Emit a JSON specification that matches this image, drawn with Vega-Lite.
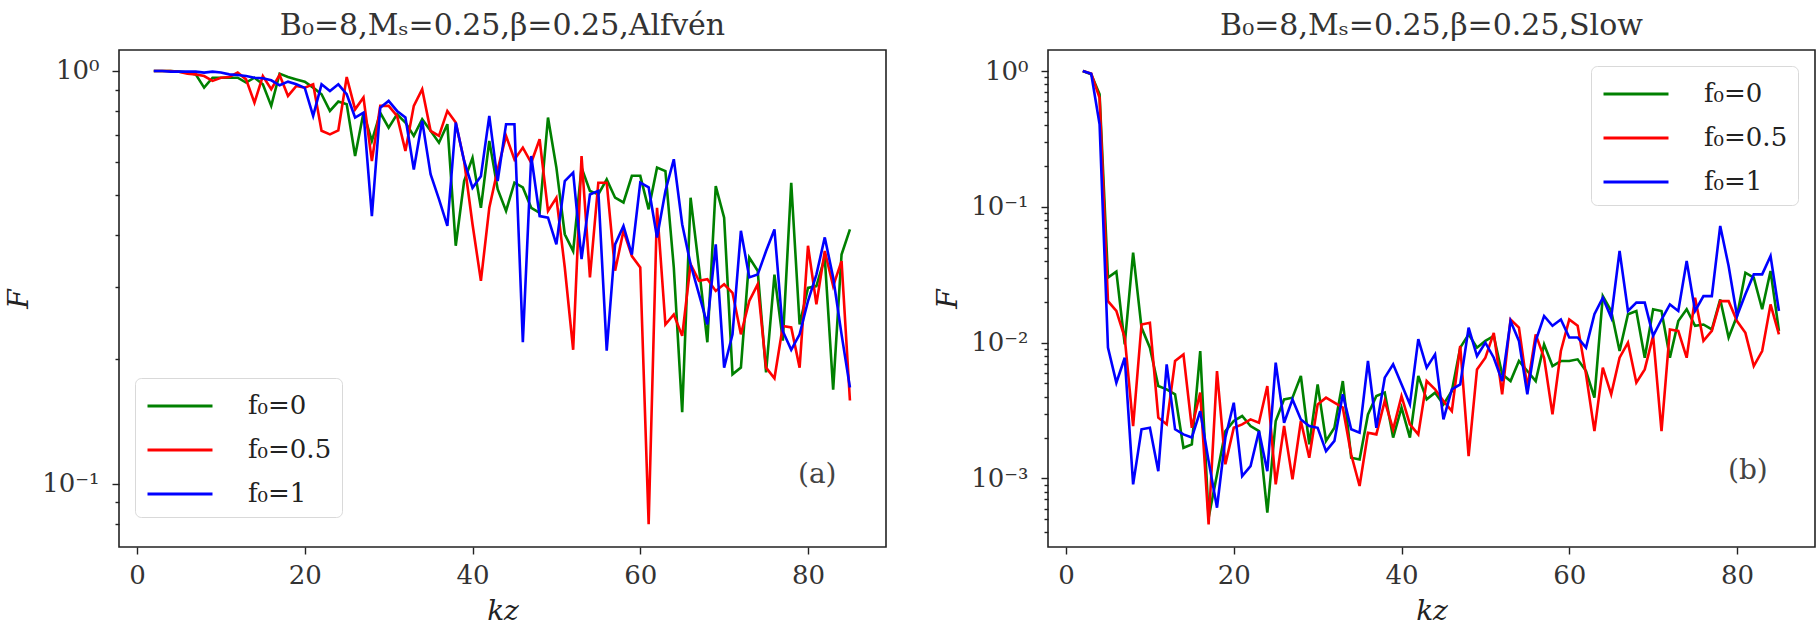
{
  "$schema": "https://vega.github.io/schema/vega-lite/v6.json",
  "background": "white",
  "padding": {"left": 4, "top": 10, "right": 2, "bottom": 5},
  "spacing": 162,
  "bounds": "flush",
  "config": {
    "font": "DejaVu Serif",
    "view": {"stroke": "#222222", "strokeWidth": 1.6},
    "axis": {
      "domain": false, "grid": false, "tickColor": "#222222", "tickWidth": 1.4,
      "labelFont": "DejaVu Serif", "labelFontSize": 26, "labelColor": "#333333",
      "titleFont": "DejaVu Serif", "titleFontSize": 28, "titleFontWeight": "normal",
      "titleFontStyle": "italic", "titleColor": "#222222"
    },
    "title": {"font": "DejaVu Serif", "fontSize": 30, "fontWeight": "normal", "color": "#333333", "offset": 9}
  },
  "datasets": {
    "alfven": [
      {"kz":2,"s":"f₀=0","F":1.0},{"kz":3,"s":"f₀=0","F":1.0},{"kz":4,"s":"f₀=0","F":1.0},{"kz":5,"s":"f₀=0","F":0.996},{"kz":6,"s":"f₀=0","F":0.991},{"kz":7,"s":"f₀=0","F":0.981},{"kz":8,"s":"f₀=0","F":0.911},{"kz":9,"s":"f₀=0","F":0.963},{"kz":10,"s":"f₀=0","F":0.963},{"kz":11,"s":"f₀=0","F":0.963},{"kz":12,"s":"f₀=0","F":0.963},{"kz":13,"s":"f₀=0","F":0.937},{"kz":14,"s":"f₀=0","F":0.963},{"kz":15,"s":"f₀=0","F":0.928},{"kz":16,"s":"f₀=0","F":0.823},{"kz":17,"s":"f₀=0","F":0.985},{"kz":18,"s":"f₀=0","F":0.967},{"kz":19,"s":"f₀=0","F":0.954},{"kz":20,"s":"f₀=0","F":0.942},{"kz":21,"s":"f₀=0","F":0.911},{"kz":22,"s":"f₀=0","F":0.878},{"kz":23,"s":"f₀=0","F":0.8},{"kz":24,"s":"f₀=0","F":0.843},{"kz":25,"s":"f₀=0","F":0.83},{"kz":26,"s":"f₀=0","F":0.622},{"kz":27,"s":"f₀=0","F":0.792},{"kz":28,"s":"f₀=0","F":0.677},{"kz":29,"s":"f₀=0","F":0.792},{"kz":30,"s":"f₀=0","F":0.729},{"kz":31,"s":"f₀=0","F":0.785},{"kz":32,"s":"f₀=0","F":0.75},{"kz":33,"s":"f₀=0","F":0.696},{"kz":34,"s":"f₀=0","F":0.764},{"kz":35,"s":"f₀=0","F":0.716},{"kz":36,"s":"f₀=0","F":0.67},{"kz":37,"s":"f₀=0","F":0.743},{"kz":38,"s":"f₀=0","F":0.377},{"kz":39,"s":"f₀=0","F":0.541},{"kz":40,"s":"f₀=0","F":0.616},{"kz":41,"s":"f₀=0","F":0.466},{"kz":42,"s":"f₀=0","F":0.677},{"kz":43,"s":"f₀=0","F":0.517},{"kz":44,"s":"f₀=0","F":0.458},{"kz":45,"s":"f₀=0","F":0.536},{"kz":46,"s":"f₀=0","F":0.522},{"kz":47,"s":"f₀=0","F":0.466},{"kz":48,"s":"f₀=0","F":0.453},{"kz":49,"s":"f₀=0","F":0.771},{"kz":50,"s":"f₀=0","F":0.583},{"kz":51,"s":"f₀=0","F":0.402},{"kz":52,"s":"f₀=0","F":0.366},{"kz":53,"s":"f₀=0","F":0.583},{"kz":54,"s":"f₀=0","F":0.512},{"kz":55,"s":"f₀=0","F":0.502},{"kz":56,"s":"f₀=0","F":0.546},{"kz":57,"s":"f₀=0","F":0.493},{"kz":58,"s":"f₀=0","F":0.48},{"kz":59,"s":"f₀=0","F":0.557},{"kz":60,"s":"f₀=0","F":0.557},{"kz":61,"s":"f₀=0","F":0.462},{"kz":62,"s":"f₀=0","F":0.583},{"kz":63,"s":"f₀=0","F":0.572},{"kz":64,"s":"f₀=0","F":0.334},{"kz":65,"s":"f₀=0","F":0.149},{"kz":66,"s":"f₀=0","F":0.493},{"kz":67,"s":"f₀=0","F":0.334},{"kz":68,"s":"f₀=0","F":0.22},{"kz":69,"s":"f₀=0","F":0.526},{"kz":70,"s":"f₀=0","F":0.441},{"kz":71,"s":"f₀=0","F":0.184},{"kz":72,"s":"f₀=0","F":0.191},{"kz":73,"s":"f₀=0","F":0.353},{"kz":74,"s":"f₀=0","F":0.328},{"kz":75,"s":"f₀=0","F":0.186},{"kz":76,"s":"f₀=0","F":0.321},{"kz":77,"s":"f₀=0","F":0.222},{"kz":78,"s":"f₀=0","F":0.536},{"kz":79,"s":"f₀=0","F":0.243},{"kz":80,"s":"f₀=0","F":0.298},{"kz":81,"s":"f₀=0","F":0.301},{"kz":82,"s":"f₀=0","F":0.353},{"kz":83,"s":"f₀=0","F":0.169},{"kz":84,"s":"f₀=0","F":0.359},{"kz":85,"s":"f₀=0","F":0.413},
      {"kz":2,"s":"f₀=0.5","F":1.0},{"kz":3,"s":"f₀=0.5","F":1.0},{"kz":4,"s":"f₀=0.5","F":1.0},{"kz":5,"s":"f₀=0.5","F":0.996},{"kz":6,"s":"f₀=0.5","F":0.985},{"kz":7,"s":"f₀=0.5","F":0.981},{"kz":8,"s":"f₀=0.5","F":0.972},{"kz":9,"s":"f₀=0.5","F":0.946},{"kz":10,"s":"f₀=0.5","F":0.963},{"kz":11,"s":"f₀=0.5","F":0.967},{"kz":12,"s":"f₀=0.5","F":0.991},{"kz":13,"s":"f₀=0.5","F":0.954},{"kz":14,"s":"f₀=0.5","F":0.838},{"kz":15,"s":"f₀=0.5","F":0.972},{"kz":16,"s":"f₀=0.5","F":0.903},{"kz":17,"s":"f₀=0.5","F":0.978},{"kz":18,"s":"f₀=0.5","F":0.87},{"kz":19,"s":"f₀=0.5","F":0.92},{"kz":20,"s":"f₀=0.5","F":0.911},{"kz":21,"s":"f₀=0.5","F":0.928},{"kz":22,"s":"f₀=0.5","F":0.716},{"kz":23,"s":"f₀=0.5","F":0.702},{"kz":24,"s":"f₀=0.5","F":0.718},{"kz":25,"s":"f₀=0.5","F":0.967},{"kz":26,"s":"f₀=0.5","F":0.807},{"kz":27,"s":"f₀=0.5","F":0.862},{"kz":28,"s":"f₀=0.5","F":0.605},{"kz":29,"s":"f₀=0.5","F":0.823},{"kz":30,"s":"f₀=0.5","F":0.823},{"kz":31,"s":"f₀=0.5","F":0.778},{"kz":32,"s":"f₀=0.5","F":0.64},{"kz":33,"s":"f₀=0.5","F":0.823},{"kz":34,"s":"f₀=0.5","F":0.903},{"kz":35,"s":"f₀=0.5","F":0.716},{"kz":36,"s":"f₀=0.5","F":0.696},{"kz":37,"s":"f₀=0.5","F":0.8},{"kz":38,"s":"f₀=0.5","F":0.75},{"kz":39,"s":"f₀=0.5","F":0.605},{"kz":40,"s":"f₀=0.5","F":0.425},{"kz":41,"s":"f₀=0.5","F":0.31},{"kz":42,"s":"f₀=0.5","F":0.466},{"kz":43,"s":"f₀=0.5","F":0.577},{"kz":44,"s":"f₀=0.5","F":0.696},{"kz":45,"s":"f₀=0.5","F":0.61},{"kz":46,"s":"f₀=0.5","F":0.652},{"kz":47,"s":"f₀=0.5","F":0.599},{"kz":48,"s":"f₀=0.5","F":0.683},{"kz":49,"s":"f₀=0.5","F":0.458},{"kz":50,"s":"f₀=0.5","F":0.493},{"kz":51,"s":"f₀=0.5","F":0.334},{"kz":52,"s":"f₀=0.5","F":0.211},{"kz":53,"s":"f₀=0.5","F":0.622},{"kz":54,"s":"f₀=0.5","F":0.316},{"kz":55,"s":"f₀=0.5","F":0.536},{"kz":56,"s":"f₀=0.5","F":0.536},{"kz":57,"s":"f₀=0.5","F":0.328},{"kz":58,"s":"f₀=0.5","F":0.41},{"kz":59,"s":"f₀=0.5","F":0.356},{"kz":60,"s":"f₀=0.5","F":0.334},{"kz":61,"s":"f₀=0.5","F":0.0797},{"kz":62,"s":"f₀=0.5","F":0.466},{"kz":63,"s":"f₀=0.5","F":0.243},{"kz":64,"s":"f₀=0.5","F":0.257},{"kz":65,"s":"f₀=0.5","F":0.228},{"kz":66,"s":"f₀=0.5","F":0.34},{"kz":67,"s":"f₀=0.5","F":0.31},{"kz":68,"s":"f₀=0.5","F":0.313},{"kz":69,"s":"f₀=0.5","F":0.293},{"kz":70,"s":"f₀=0.5","F":0.304},{"kz":71,"s":"f₀=0.5","F":0.29},{"kz":72,"s":"f₀=0.5","F":0.23},{"kz":73,"s":"f₀=0.5","F":0.277},{"kz":74,"s":"f₀=0.5","F":0.304},{"kz":75,"s":"f₀=0.5","F":0.191},{"kz":76,"s":"f₀=0.5","F":0.18},{"kz":77,"s":"f₀=0.5","F":0.241},{"kz":78,"s":"f₀=0.5","F":0.239},{"kz":79,"s":"f₀=0.5","F":0.191},{"kz":80,"s":"f₀=0.5","F":0.377},{"kz":81,"s":"f₀=0.5","F":0.272},{"kz":82,"s":"f₀=0.5","F":0.366},{"kz":83,"s":"f₀=0.5","F":0.301},{"kz":84,"s":"f₀=0.5","F":0.346},{"kz":85,"s":"f₀=0.5","F":0.159},
      {"kz":2,"s":"f₀=1","F":1.0},{"kz":3,"s":"f₀=1","F":1.0},{"kz":4,"s":"f₀=1","F":0.996},{"kz":5,"s":"f₀=1","F":0.996},{"kz":6,"s":"f₀=1","F":0.996},{"kz":7,"s":"f₀=1","F":0.996},{"kz":8,"s":"f₀=1","F":0.991},{"kz":9,"s":"f₀=1","F":0.996},{"kz":10,"s":"f₀=1","F":0.991},{"kz":11,"s":"f₀=1","F":0.981},{"kz":12,"s":"f₀=1","F":0.978},{"kz":13,"s":"f₀=1","F":0.972},{"kz":14,"s":"f₀=1","F":0.963},{"kz":15,"s":"f₀=1","F":0.96},{"kz":16,"s":"f₀=1","F":0.949},{"kz":17,"s":"f₀=1","F":0.923},{"kz":18,"s":"f₀=1","F":0.942},{"kz":19,"s":"f₀=1","F":0.928},{"kz":20,"s":"f₀=1","F":0.91},{"kz":21,"s":"f₀=1","F":0.778},{"kz":22,"s":"f₀=1","F":0.928},{"kz":23,"s":"f₀=1","F":0.894},{"kz":24,"s":"f₀=1","F":0.928},{"kz":25,"s":"f₀=1","F":0.878},{"kz":26,"s":"f₀=1","F":0.771},{"kz":27,"s":"f₀=1","F":0.792},{"kz":28,"s":"f₀=1","F":0.445},{"kz":29,"s":"f₀=1","F":0.815},{"kz":30,"s":"f₀=1","F":0.846},{"kz":31,"s":"f₀=1","F":0.8},{"kz":32,"s":"f₀=1","F":0.771},{"kz":33,"s":"f₀=1","F":0.577},{"kz":34,"s":"f₀=1","F":0.757},{"kz":35,"s":"f₀=1","F":0.562},{"kz":36,"s":"f₀=1","F":0.489},{"kz":37,"s":"f₀=1","F":0.421},{"kz":38,"s":"f₀=1","F":0.75},{"kz":39,"s":"f₀=1","F":0.605},{"kz":40,"s":"f₀=1","F":0.521},{"kz":41,"s":"f₀=1","F":0.556},{"kz":42,"s":"f₀=1","F":0.778},{"kz":43,"s":"f₀=1","F":0.541},{"kz":44,"s":"f₀=1","F":0.743},{"kz":45,"s":"f₀=1","F":0.743},{"kz":46,"s":"f₀=1","F":0.22},{"kz":47,"s":"f₀=1","F":0.622},{"kz":48,"s":"f₀=1","F":0.445},{"kz":49,"s":"f₀=1","F":0.441},{"kz":50,"s":"f₀=1","F":0.38},{"kz":51,"s":"f₀=1","F":0.541},{"kz":52,"s":"f₀=1","F":0.567},{"kz":53,"s":"f₀=1","F":0.35},{"kz":54,"s":"f₀=1","F":0.502},{"kz":55,"s":"f₀=1","F":0.512},{"kz":56,"s":"f₀=1","F":0.21},{"kz":57,"s":"f₀=1","F":0.38},{"kz":58,"s":"f₀=1","F":0.421},{"kz":59,"s":"f₀=1","F":0.359},{"kz":60,"s":"f₀=1","F":0.536},{"kz":61,"s":"f₀=1","F":0.522},{"kz":62,"s":"f₀=1","F":0.395},{"kz":63,"s":"f₀=1","F":0.512},{"kz":64,"s":"f₀=1","F":0.611},{"kz":65,"s":"f₀=1","F":0.425},{"kz":66,"s":"f₀=1","F":0.34},{"kz":67,"s":"f₀=1","F":0.288},{"kz":68,"s":"f₀=1","F":0.243},{"kz":69,"s":"f₀=1","F":0.38},{"kz":70,"s":"f₀=1","F":0.191},{"kz":71,"s":"f₀=1","F":0.23},{"kz":72,"s":"f₀=1","F":0.41},{"kz":73,"s":"f₀=1","F":0.316},{"kz":74,"s":"f₀=1","F":0.321},{"kz":75,"s":"f₀=1","F":0.366},{"kz":76,"s":"f₀=1","F":0.413},{"kz":77,"s":"f₀=1","F":0.234},{"kz":78,"s":"f₀=1","F":0.211},{"kz":79,"s":"f₀=1","F":0.23},{"kz":80,"s":"f₀=1","F":0.277},{"kz":81,"s":"f₀=1","F":0.321},{"kz":82,"s":"f₀=1","F":0.395},{"kz":83,"s":"f₀=1","F":0.316},{"kz":84,"s":"f₀=1","F":0.23},{"kz":85,"s":"f₀=1","F":0.171}
    ],
    "slow": [
      {"kz":2,"s":"f₀=0","F":1.0},{"kz":3,"s":"f₀=0","F":0.945},{"kz":4,"s":"f₀=0","F":0.673},{"kz":5,"s":"f₀=0","F":0.0301},{"kz":6,"s":"f₀=0","F":0.0333},{"kz":7,"s":"f₀=0","F":0.00971},{"kz":8,"s":"f₀=0","F":0.046},{"kz":9,"s":"f₀=0","F":0.0129},{"kz":10,"s":"f₀=0","F":0.00918},{"kz":11,"s":"f₀=0","F":0.00479},{"kz":12,"s":"f₀=0","F":0.00453},{"kz":13,"s":"f₀=0","F":0.00416},{"kz":14,"s":"f₀=0","F":0.00168},{"kz":15,"s":"f₀=0","F":0.00178},{"kz":16,"s":"f₀=0","F":0.00867},{"kz":17,"s":"f₀=0","F":0.000514},{"kz":18,"s":"f₀=0","F":0.00107},{"kz":19,"s":"f₀=0","F":0.00223},{"kz":20,"s":"f₀=0","F":0.00265},{"kz":21,"s":"f₀=0","F":0.00288},{"kz":22,"s":"f₀=0","F":0.00243},{"kz":23,"s":"f₀=0","F":0.00223},{"kz":24,"s":"f₀=0","F":0.000559},{"kz":25,"s":"f₀=0","F":0.00265},{"kz":26,"s":"f₀=0","F":0.00382},{"kz":27,"s":"f₀=0","F":0.00393},{"kz":28,"s":"f₀=0","F":0.00568},{"kz":29,"s":"f₀=0","F":0.00178},{"kz":30,"s":"f₀=0","F":0.00493},{"kz":31,"s":"f₀=0","F":0.00189},{"kz":32,"s":"f₀=0","F":0.00236},{"kz":33,"s":"f₀=0","F":0.00521},{"kz":34,"s":"f₀=0","F":0.00142},{"kz":35,"s":"f₀=0","F":0.00138},{"kz":36,"s":"f₀=0","F":0.00296},{"kz":37,"s":"f₀=0","F":0.00404},{"kz":38,"s":"f₀=0","F":0.00428},{"kz":39,"s":"f₀=0","F":0.002},{"kz":40,"s":"f₀=0","F":0.00332},{"kz":41,"s":"f₀=0","F":0.002},{"kz":42,"s":"f₀=0","F":0.00568},{"kz":43,"s":"f₀=0","F":0.00382},{"kz":44,"s":"f₀=0","F":0.00428},{"kz":45,"s":"f₀=0","F":0.00351},{"kz":46,"s":"f₀=0","F":0.0044},{"kz":47,"s":"f₀=0","F":0.00918},{"kz":48,"s":"f₀=0","F":0.0115},{"kz":49,"s":"f₀=0","F":0.00918},{"kz":50,"s":"f₀=0","F":0.0103},{"kz":51,"s":"f₀=0","F":0.0112},{"kz":52,"s":"f₀=0","F":0.00584},{"kz":53,"s":"f₀=0","F":0.00521},{"kz":54,"s":"f₀=0","F":0.00732},{"kz":55,"s":"f₀=0","F":0.00618},{"kz":56,"s":"f₀=0","F":0.00521},{"kz":57,"s":"f₀=0","F":0.00971},{"kz":58,"s":"f₀=0","F":0.00672},{"kz":59,"s":"f₀=0","F":0.00732},{"kz":60,"s":"f₀=0","F":0.00732},{"kz":61,"s":"f₀=0","F":0.00753},{"kz":62,"s":"f₀=0","F":0.00618},{"kz":63,"s":"f₀=0","F":0.00393},{"kz":64,"s":"f₀=0","F":0.022},{"kz":65,"s":"f₀=0","F":0.0171},{"kz":66,"s":"f₀=0","F":0.00867},{"kz":67,"s":"f₀=0","F":0.0162},{"kz":68,"s":"f₀=0","F":0.0171},{"kz":69,"s":"f₀=0","F":0.00774},{"kz":70,"s":"f₀=0","F":0.0176},{"kz":71,"s":"f₀=0","F":0.0171},{"kz":72,"s":"f₀=0","F":0.00774},{"kz":73,"s":"f₀=0","F":0.0144},{"kz":74,"s":"f₀=0","F":0.0176},{"kz":75,"s":"f₀=0","F":0.0133},{"kz":76,"s":"f₀=0","F":0.0136},{"kz":77,"s":"f₀=0","F":0.0125},{"kz":78,"s":"f₀=0","F":0.0208},{"kz":79,"s":"f₀=0","F":0.0109},{"kz":80,"s":"f₀=0","F":0.0157},{"kz":81,"s":"f₀=0","F":0.0327},{"kz":82,"s":"f₀=0","F":0.0301},{"kz":83,"s":"f₀=0","F":0.0176},{"kz":84,"s":"f₀=0","F":0.0337},{"kz":85,"s":"f₀=0","F":0.0122},
      {"kz":2,"s":"f₀=0.5","F":1.0},{"kz":3,"s":"f₀=0.5","F":0.956},{"kz":4,"s":"f₀=0.5","F":0.636},{"kz":5,"s":"f₀=0.5","F":0.0202},{"kz":6,"s":"f₀=0.5","F":0.0171},{"kz":7,"s":"f₀=0.5","F":0.0109},{"kz":8,"s":"f₀=0.5","F":0.00243},{"kz":9,"s":"f₀=0.5","F":0.0136},{"kz":10,"s":"f₀=0.5","F":0.014},{"kz":11,"s":"f₀=0.5","F":0.0028},{"kz":12,"s":"f₀=0.5","F":0.0025},{"kz":13,"s":"f₀=0.5","F":0.00732},{"kz":14,"s":"f₀=0.5","F":0.00819},{"kz":15,"s":"f₀=0.5","F":0.00236},{"kz":16,"s":"f₀=0.5","F":0.00428},{"kz":17,"s":"f₀=0.5","F":0.000459},{"kz":18,"s":"f₀=0.5","F":0.00618},{"kz":19,"s":"f₀=0.5","F":0.00127},{"kz":20,"s":"f₀=0.5","F":0.00236},{"kz":21,"s":"f₀=0.5","F":0.0025},{"kz":22,"s":"f₀=0.5","F":0.00272},{"kz":23,"s":"f₀=0.5","F":0.00257},{"kz":24,"s":"f₀=0.5","F":0.00479},{"kz":25,"s":"f₀=0.5","F":0.000904},{"kz":26,"s":"f₀=0.5","F":0.00243},{"kz":27,"s":"f₀=0.5","F":0.000984},{"kz":28,"s":"f₀=0.5","F":0.00265},{"kz":29,"s":"f₀=0.5","F":0.00142},{"kz":30,"s":"f₀=0.5","F":0.00351},{"kz":31,"s":"f₀=0.5","F":0.00393},{"kz":32,"s":"f₀=0.5","F":0.00361},{"kz":33,"s":"f₀=0.5","F":0.00332},{"kz":34,"s":"f₀=0.5","F":0.0015},{"kz":35,"s":"f₀=0.5","F":0.000879},{"kz":36,"s":"f₀=0.5","F":0.00217},{"kz":37,"s":"f₀=0.5","F":0.00211},{"kz":38,"s":"f₀=0.5","F":0.00372},{"kz":39,"s":"f₀=0.5","F":0.0023},{"kz":40,"s":"f₀=0.5","F":0.00404},{"kz":41,"s":"f₀=0.5","F":0.0025},{"kz":42,"s":"f₀=0.5","F":0.00211},{"kz":43,"s":"f₀=0.5","F":0.00521},{"kz":44,"s":"f₀=0.5","F":0.00453},{"kz":45,"s":"f₀=0.5","F":0.00372},{"kz":46,"s":"f₀=0.5","F":0.00313},{"kz":47,"s":"f₀=0.5","F":0.00944},{"kz":48,"s":"f₀=0.5","F":0.00146},{"kz":49,"s":"f₀=0.5","F":0.00635},{"kz":50,"s":"f₀=0.5","F":0.00774},{"kz":51,"s":"f₀=0.5","F":0.0118},{"kz":52,"s":"f₀=0.5","F":0.00416},{"kz":53,"s":"f₀=0.5","F":0.0148},{"kz":54,"s":"f₀=0.5","F":0.0129},{"kz":55,"s":"f₀=0.5","F":0.00466},{"kz":56,"s":"f₀=0.5","F":0.0115},{"kz":57,"s":"f₀=0.5","F":0.00774},{"kz":58,"s":"f₀=0.5","F":0.00296},{"kz":59,"s":"f₀=0.5","F":0.00867},{"kz":60,"s":"f₀=0.5","F":0.0148},{"kz":61,"s":"f₀=0.5","F":0.0133},{"kz":62,"s":"f₀=0.5","F":0.00584},{"kz":63,"s":"f₀=0.5","F":0.00223},{"kz":64,"s":"f₀=0.5","F":0.00654},{"kz":65,"s":"f₀=0.5","F":0.00416},{"kz":66,"s":"f₀=0.5","F":0.00774},{"kz":67,"s":"f₀=0.5","F":0.00999},{"kz":68,"s":"f₀=0.5","F":0.00507},{"kz":69,"s":"f₀=0.5","F":0.00635},{"kz":70,"s":"f₀=0.5","F":0.0112},{"kz":71,"s":"f₀=0.5","F":0.00223},{"kz":72,"s":"f₀=0.5","F":0.0125},{"kz":73,"s":"f₀=0.5","F":0.0122},{"kz":74,"s":"f₀=0.5","F":0.00774},{"kz":75,"s":"f₀=0.5","F":0.0214},{"kz":76,"s":"f₀=0.5","F":0.0103},{"kz":77,"s":"f₀=0.5","F":0.0122},{"kz":78,"s":"f₀=0.5","F":0.0202},{"kz":79,"s":"f₀=0.5","F":0.0202},{"kz":80,"s":"f₀=0.5","F":0.0144},{"kz":81,"s":"f₀=0.5","F":0.0118},{"kz":82,"s":"f₀=0.5","F":0.00672},{"kz":83,"s":"f₀=0.5","F":0.00867},{"kz":84,"s":"f₀=0.5","F":0.0191},{"kz":85,"s":"f₀=0.5","F":0.0115},
      {"kz":2,"s":"f₀=1","F":1.0},{"kz":3,"s":"f₀=1","F":0.956},{"kz":4,"s":"f₀=1","F":0.405},{"kz":5,"s":"f₀=1","F":0.00918},{"kz":6,"s":"f₀=1","F":0.00507},{"kz":7,"s":"f₀=1","F":0.00774},{"kz":8,"s":"f₀=1","F":0.000904},{"kz":9,"s":"f₀=1","F":0.0023},{"kz":10,"s":"f₀=1","F":0.00236},{"kz":11,"s":"f₀=1","F":0.00113},{"kz":12,"s":"f₀=1","F":0.00692},{"kz":13,"s":"f₀=1","F":0.0023},{"kz":14,"s":"f₀=1","F":0.00211},{"kz":15,"s":"f₀=1","F":0.002},{"kz":16,"s":"f₀=1","F":0.00313},{"kz":17,"s":"f₀=1","F":0.00134},{"kz":18,"s":"f₀=1","F":0.000609},{"kz":19,"s":"f₀=1","F":0.002},{"kz":20,"s":"f₀=1","F":0.00361},{"kz":21,"s":"f₀=1","F":0.00104},{"kz":22,"s":"f₀=1","F":0.00123},{"kz":23,"s":"f₀=1","F":0.00223},{"kz":24,"s":"f₀=1","F":0.00113},{"kz":25,"s":"f₀=1","F":0.00712},{"kz":26,"s":"f₀=1","F":0.00257},{"kz":27,"s":"f₀=1","F":0.00382},{"kz":28,"s":"f₀=1","F":0.00272},{"kz":29,"s":"f₀=1","F":0.00243},{"kz":30,"s":"f₀=1","F":0.00236},{"kz":31,"s":"f₀=1","F":0.00159},{"kz":32,"s":"f₀=1","F":0.00189},{"kz":33,"s":"f₀=1","F":0.00416},{"kz":34,"s":"f₀=1","F":0.0023},{"kz":35,"s":"f₀=1","F":0.00217},{"kz":36,"s":"f₀=1","F":0.00732},{"kz":37,"s":"f₀=1","F":0.00236},{"kz":38,"s":"f₀=1","F":0.00552},{"kz":39,"s":"f₀=1","F":0.00692},{"kz":40,"s":"f₀=1","F":0.00493},{"kz":41,"s":"f₀=1","F":0.00351},{"kz":42,"s":"f₀=1","F":0.0106},{"kz":43,"s":"f₀=1","F":0.00654},{"kz":44,"s":"f₀=1","F":0.00819},{"kz":45,"s":"f₀=1","F":0.00272},{"kz":46,"s":"f₀=1","F":0.00453},{"kz":47,"s":"f₀=1","F":0.00493},{"kz":48,"s":"f₀=1","F":0.0129},{"kz":49,"s":"f₀=1","F":0.00797},{"kz":50,"s":"f₀=1","F":0.00999},{"kz":51,"s":"f₀=1","F":0.00774},{"kz":52,"s":"f₀=1","F":0.00521},{"kz":53,"s":"f₀=1","F":0.0144},{"kz":54,"s":"f₀=1","F":0.0103},{"kz":55,"s":"f₀=1","F":0.00416},{"kz":56,"s":"f₀=1","F":0.0103},{"kz":57,"s":"f₀=1","F":0.0157},{"kz":58,"s":"f₀=1","F":0.0133},{"kz":59,"s":"f₀=1","F":0.0148},{"kz":60,"s":"f₀=1","F":0.0109},{"kz":61,"s":"f₀=1","F":0.0109},{"kz":62,"s":"f₀=1","F":0.00918},{"kz":63,"s":"f₀=1","F":0.0162},{"kz":64,"s":"f₀=1","F":0.0214},{"kz":65,"s":"f₀=1","F":0.0153},{"kz":66,"s":"f₀=1","F":0.0473},{"kz":67,"s":"f₀=1","F":0.0171},{"kz":68,"s":"f₀=1","F":0.0197},{"kz":69,"s":"f₀=1","F":0.0197},{"kz":70,"s":"f₀=1","F":0.0112},{"kz":71,"s":"f₀=1","F":0.0148},{"kz":72,"s":"f₀=1","F":0.0191},{"kz":73,"s":"f₀=1","F":0.0171},{"kz":74,"s":"f₀=1","F":0.0399},{"kz":75,"s":"f₀=1","F":0.0171},{"kz":76,"s":"f₀=1","F":0.022},{"kz":77,"s":"f₀=1","F":0.022},{"kz":78,"s":"f₀=1","F":0.0722},{"kz":79,"s":"f₀=1","F":0.0366},{"kz":80,"s":"f₀=1","F":0.0157},{"kz":81,"s":"f₀=1","F":0.0227},{"kz":82,"s":"f₀=1","F":0.0318},{"kz":83,"s":"f₀=1","F":0.0318},{"kz":84,"s":"f₀=1","F":0.0434},{"kz":85,"s":"f₀=1","F":0.0171}
    ]
  },
  "resolve": {"legend": {"color": "independent"}, "scale": {"x": "independent", "y": "independent"}},
  "hconcat": [
    {
      "width": 767,
      "height": 497,
      "title": "B₀=8,Mₛ=0.25,β=0.25,Alfvén",
      "layer": [
        {
          "data": {"name": "alfven"},
          "mark": {"type": "line", "strokeWidth": 2.6},
          "encoding": {
            "x": {
              "field": "kz", "type": "quantitative", "title": "kz",
              "scale": {"domain": [-2.15, 89.3], "nice": false, "zero": false},
              "axis": {"values": [0, 20, 40, 60, 80], "format": "d", "tickSize": 7, "labelPadding": 8, "titlePadding": 9}
            },
            "y": {
              "field": "F", "type": "quantitative", "title": "F",
              "scale": {"type": "log", "domain": [0.0702, 1.124], "nice": false},
              "axis": {
                "values": [1, 0.9, 0.8, 0.7, 0.6, 0.5, 0.4, 0.3, 0.2, 0.1, 0.09, 0.08],
                "labelExpr": "datum.value == 1 ? '10⁰' : datum.value == 0.1 ? '10⁻¹' : ''",
                "tickSize": {"condition": {"test": "indexof([1, 0.1], datum.value) >= 0", "value": 7}, "value": 4},
                "labelPadding": 13, "titlePadding": 8, "labelOverlap": false
              }
            },
            "color": {
              "field": "s", "type": "nominal",
              "scale": {"domain": ["f₀=0", "f₀=0.5", "f₀=1"], "range": ["#008000", "#ff0000", "#0000ff"]},
              "legend": {
                "title": null, "orient": "none", "legendX": 16, "legendY": 328,
                "symbolType": "M-2,0H2", "symbolSize": 1056, "symbolStrokeWidth": 3,
                "symbolOffset": 17, "labelOffset": 50, "labelFont": "DejaVu Serif",
                "labelFontSize": 26, "labelColor": "#222222", "rowPadding": 13, "padding": 10,
                "fillColor": "white", "strokeColor": "#d9d9d9", "cornerRadius": 6
              }
            }
          }
        },
        {
          "data": {"values": [{"kz": 81.1, "F": 0.105, "t": "(a)"}]},
          "mark": {"type": "text", "fontSize": 28, "color": "#444444", "font": "DejaVu Serif"},
          "encoding": {
            "x": {"field": "kz", "type": "quantitative"},
            "y": {"field": "F", "type": "quantitative"},
            "text": {"field": "t"}
          }
        }
      ]
    },
    {
      "width": 767,
      "height": 497,
      "title": "B₀=8,Mₛ=0.25,β=0.25,Slow",
      "layer": [
        {
          "data": {"name": "slow"},
          "mark": {"type": "line", "strokeWidth": 2.6},
          "encoding": {
            "x": {
              "field": "kz", "type": "quantitative", "title": "kz",
              "scale": {"domain": [-2.15, 89.3], "nice": false, "zero": false},
              "axis": {"values": [0, 20, 40, 60, 80], "format": "d", "tickSize": 7, "labelPadding": 8, "titlePadding": 9}
            },
            "y": {
              "field": "F", "type": "quantitative", "title": "F",
              "scale": {"type": "log", "domain": [0.0003126, 1.428], "nice": false},
              "axis": {
                "values": [1, 0.9, 0.8, 0.7, 0.6, 0.5, 0.4, 0.3, 0.2, 0.1, 0.09, 0.08, 0.07, 0.06, 0.05, 0.04, 0.03, 0.02, 0.01, 0.009, 0.008, 0.007, 0.006, 0.005, 0.004, 0.003, 0.002, 0.001, 0.0009, 0.0008, 0.0007, 0.0006, 0.0005, 0.0004],
                "labelExpr": "datum.value == 1 ? '10⁰' : datum.value == 0.1 ? '10⁻¹' : datum.value == 0.01 ? '10⁻²' : datum.value == 0.001 ? '10⁻³' : ''",
                "tickSize": {"condition": {"test": "indexof([1, 0.1, 0.01, 0.001], datum.value) >= 0", "value": 7}, "value": 4},
                "labelPadding": 13, "titlePadding": 8, "labelOverlap": false
              }
            },
            "color": {
              "field": "s", "type": "nominal",
              "scale": {"domain": ["f₀=0", "f₀=0.5", "f₀=1"], "range": ["#008000", "#ff0000", "#0000ff"]},
              "legend": {
                "title": null, "orient": "none", "legendX": 543, "legendY": 16,
                "symbolType": "M-2,0H2", "symbolSize": 1056, "symbolStrokeWidth": 3,
                "symbolOffset": 17, "labelOffset": 50, "labelFont": "DejaVu Serif",
                "labelFontSize": 26, "labelColor": "#222222", "rowPadding": 13, "padding": 10,
                "fillColor": "white", "strokeColor": "#d9d9d9", "cornerRadius": 6
              }
            }
          }
        },
        {
          "data": {"values": [{"kz": 81.3, "F": 0.00113, "t": "(b)"}]},
          "mark": {"type": "text", "fontSize": 28, "color": "#444444", "font": "DejaVu Serif"},
          "encoding": {
            "x": {"field": "kz", "type": "quantitative"},
            "y": {"field": "F", "type": "quantitative"},
            "text": {"field": "t"}
          }
        }
      ]
    }
  ]
}
